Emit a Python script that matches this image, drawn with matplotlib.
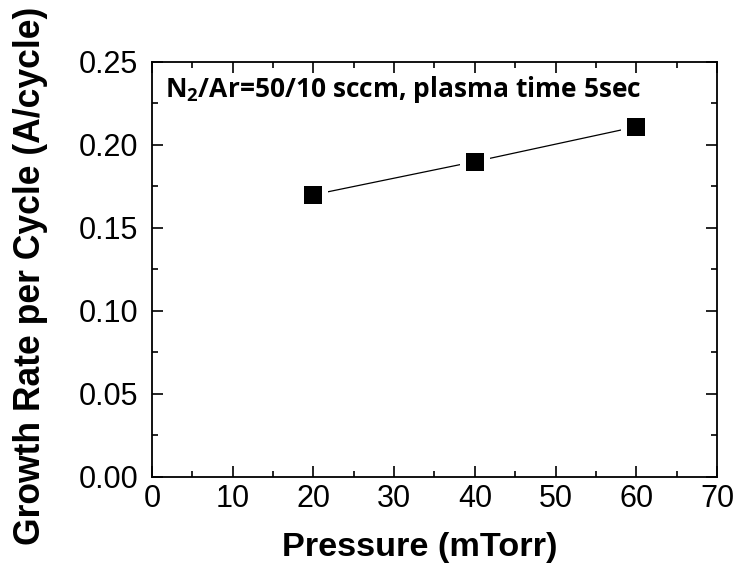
import matplotlib
matplotlib.use('Agg')
import matplotlib.pyplot as plt
from matplotlib.ticker import MultipleLocator, FormatStrFormatter

plt.rcParams['font.family'] = ['Liberation Sans', 'DejaVu Sans']

# Data
pressure = [20, 40, 60]
growth_rate = [0.170, 0.190, 0.211]

fig = plt.figure(figsize=(7.37, 5.65), dpi=100)
ax = fig.add_axes([0.2062, 0.1558, 0.7667, 0.7345])

# line first, then white halo squares to make the Origin-style gaps, then the markers
ax.plot(pressure, growth_rate, '-', color='black', lw=0.9, zorder=1)
ax.plot(pressure, growth_rate, 's', color='white', ms=22, mec='white', mew=0, zorder=2)
ax.plot(pressure, growth_rate, 's', color='black', ms=13, mec='black', mew=0, zorder=3)

ax.set_xlim(0, 70)
ax.set_ylim(0, 0.25)
ax.xaxis.set_major_locator(MultipleLocator(10))
ax.xaxis.set_minor_locator(MultipleLocator(5))
ax.yaxis.set_major_locator(MultipleLocator(0.05))
ax.yaxis.set_minor_locator(MultipleLocator(0.025))
ax.yaxis.set_major_formatter(FormatStrFormatter('%.2f'))

ax.tick_params(which='both', direction='in', top=True, right=True, width=1.2)
ax.tick_params(which='major', length=8, labelsize=22)
ax.tick_params(which='minor', length=4.5)
ax.tick_params(axis='x', which='major', pad=5)
ax.tick_params(axis='y', which='major', pad=10)
for sp in ax.spines.values():
    sp.set_linewidth(1.3)

ax.set_xlabel('Pressure (mTorr)', fontsize=24.7, fontweight='bold', va='baseline')
ax.xaxis.set_label_coords(0.474, -0.190)
ax.set_ylabel('Growth Rate per Cycle (A/cycle)', fontsize=25.6, fontweight='bold', va='center')
ax.yaxis.set_label_coords(-0.215, 0.484)

ax.text(0.023, 0.915, r'N$_\mathregular{2}$/Ar=50/10 sccm, plasma time 5sec',
        transform=ax.transAxes, ha='left', va='baseline', fontsize=19, fontweight='bold',
        family=['Open Sans', 'DejaVu Sans'])

fig.savefig('out.png', dpi=100)
